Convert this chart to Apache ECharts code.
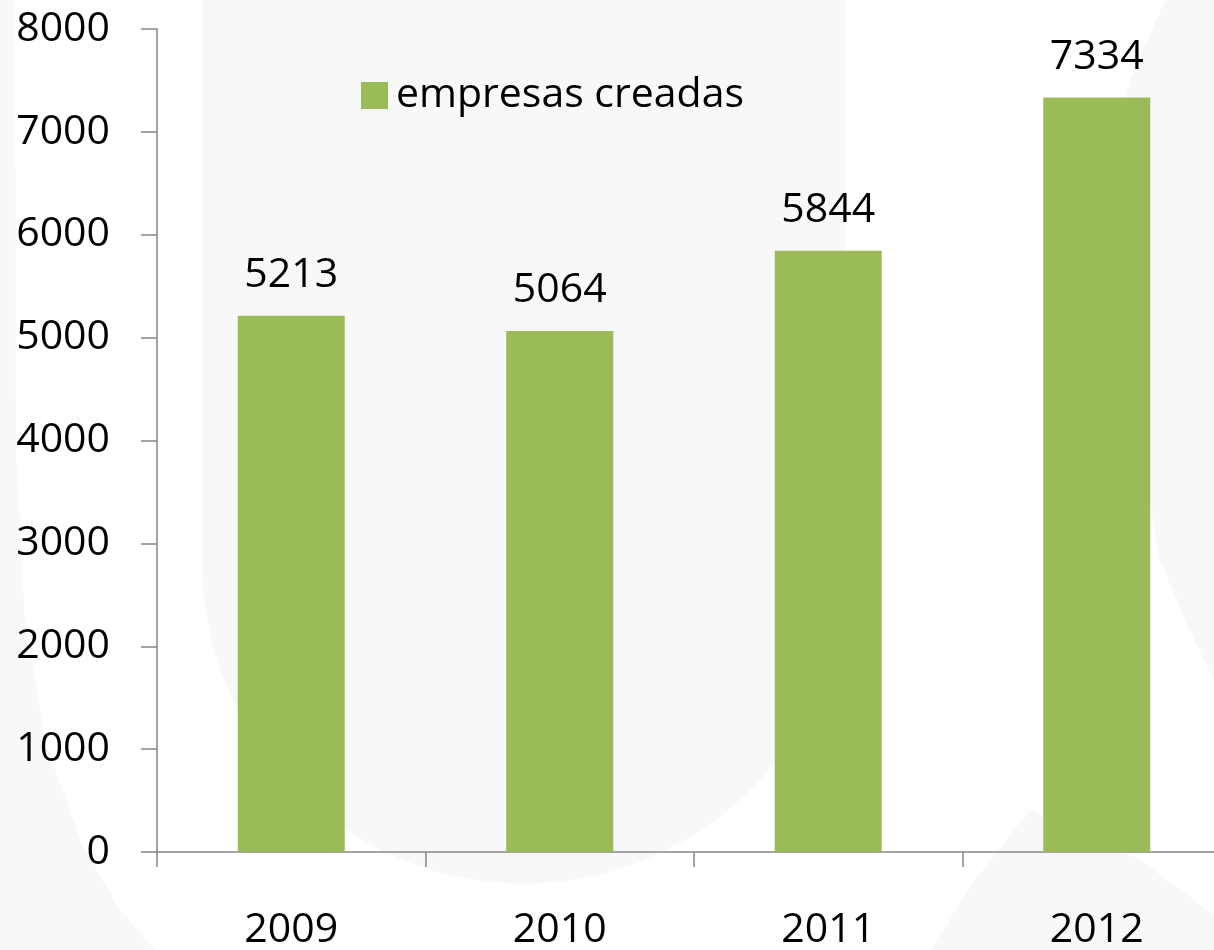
<!DOCTYPE html>
<html>
<head>
<meta charset="utf-8">
<title>empresas creadas</title>
<script src="https://cdn.jsdelivr.net/npm/echarts@6/dist/echarts.min.js"></script>
<style>
    html, body { margin: 0; padding: 0; background: #fff; }
    #main { width: 1214px; height: 950px; }
</style>
</head>
<body>
<div id="main"></div>
<script>
    // datos del gráfico
    var years = ['2009', '2010', '2011', '2012'];
    var empresas = [5213, 5064, 5844, 7334];
    var serieNombre = 'empresas creadas';

    var fuente = '"Open Sans", "Liberation Sans", sans-serif';
    var gris = '#f8f8f8';

    var myChart = echarts.init(document.getElementById('main'));

    // marca de agua de fondo (formas gris muy claro)
    var fondo = [
        { type: 'rect', z: -10, shape: { x: 202, y: 0, width: 643, height: 562 }, style: { fill: gris } },
        { type: 'circle', z: -10, shape: { cx: 523.5, cy: 562, r: 321.5 }, style: { fill: gris } },
        { type: 'polygon', z: -10, shape: { points: [[0, 0], [15, 0], [16, 450], [25, 620], [45, 740], [80, 840], [120, 910], [155, 950], [0, 950]] }, style: { fill: gris } },
        { type: 'polygon', z: -10, shape: { points: [[1165, 0], [1214, 0], [1214, 680], [1185, 620], [1160, 560], [1140, 450], [1128, 300], [1122, 150], [1126, 90]] }, style: { fill: gris } },
        { type: 'polygon', z: -10, shape: { points: [[930, 950], [975, 880], [1030, 810], [1080, 830], [1140, 860], [1214, 915], [1214, 950]] }, style: { fill: gris } }
    ];

    var option = {
        backgroundColor: '#ffffff',
        animation: false,
        textStyle: { fontFamily: fuente },
        graphic: fondo,
        grid: {
            left: 157,
            top: 29,
            width: 1074,
            height: 823,
            outerBoundsMode: 'none'
        },
        legend: {
            data: [serieNombre],
            left: 356,
            top: 70,
            icon: 'rect',
            itemWidth: 27,
            itemHeight: 27,
            textStyle: { fontSize: 41, color: '#000', fontFamily: fuente, padding: [0, 0, 0, 3] }
        },
        xAxis: {
            type: 'category',
            data: years,
            axisLine: { lineStyle: { color: '#868686', width: 1.5 } },
            axisTick: { show: true, length: 15, lineStyle: { color: '#868686', width: 1.5 } },
            axisLabel: { fontSize: 41, color: '#000', margin: 58, fontFamily: fuente }
        },
        yAxis: {
            type: 'value',
            min: 0,
            max: 8000,
            interval: 1000,
            splitLine: { show: false },
            axisLine: { show: true, lineStyle: { color: '#868686', width: 1.5 } },
            axisTick: { show: true, length: 16, lineStyle: { color: '#868686', width: 1.5 } },
            axisLabel: {
                fontSize: 41, color: '#000', margin: 47, fontFamily: fuente,
                formatter: function (v) { return String(v); }
            }
        },
        series: [{
            name: serieNombre,
            type: 'bar',
            data: empresas,
            barWidth: 107,
            itemStyle: { color: '#9bbb59' },
            label: {
                show: true,
                position: 'top',
                distance: 20,
                fontSize: 41,
                color: '#000',
                fontFamily: fuente
            }
        }]
    };

    myChart.setOption(option);
</script>
</body>
</html>
